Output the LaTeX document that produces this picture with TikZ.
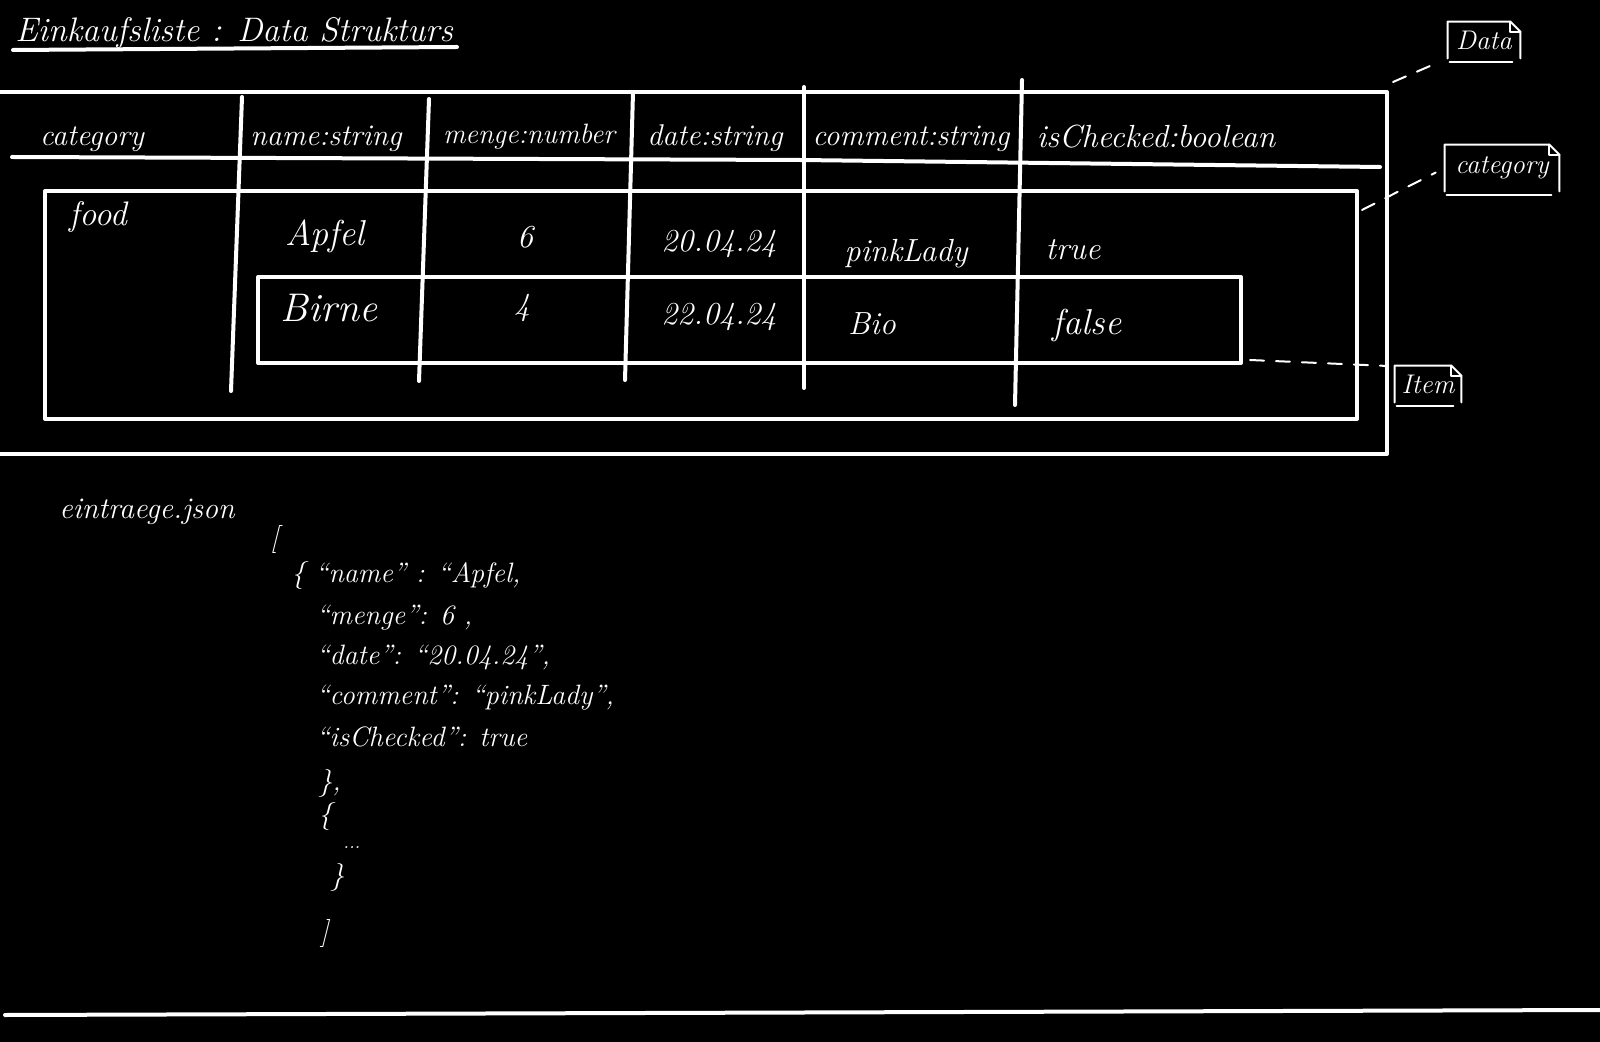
\documentclass[tikz,border=0pt]{standalone}
\usepackage{fontspec}
\begin{document}
\begin{tikzpicture}[x=0.5pt,y=-0.5pt,line cap=round,line join=round,
  wl/.style={white,line width=2pt},
  thinl/.style={white,line width=1pt},
  dashc/.style={white,line width=1pt,dash pattern=on 7pt off 6pt,shorten >=5pt},
  txt/.style={text=white,inner sep=0pt,font=\itshape\fontsize{16}{19}\selectfont},
  hdr/.style={txt,anchor=base,font=\itshape\fontsize{15}{18}\selectfont},
  cell/.style={txt,anchor=base},
  js/.style={txt,anchor=base west,font=\itshape\fontsize{14}{17}\selectfont},
  lbl/.style={text=white,inner sep=0pt,font=\itshape\fontsize{13.5}{16}\selectfont}]
\fill[black] (0,0) rectangle (1600,1042);
\useasboundingbox (0,0) rectangle (1600,1042);

% title
\node[txt,anchor=base west,font=\itshape\fontsize{17}{20}\selectfont] (title) at (15,42) {Einkaufsliste : Data Strukturs};
\draw[wl] (13,50) -- (457,47);

% Data frame
\draw[wl] (-5,92) -- (1387,92) -- (1387,454) -- (-5,454);
% header underline
\draw[wl] (12,157) -- (800,160) -- (1380,167);
% column separators
\draw[wl] (242,97) -- (231,391);
\draw[wl] (429,99) -- (419,381);
\draw[wl] (633,92) -- (625,380);
\draw[wl] (804,87) -- (804,388);
\draw[wl] (1022,80) -- (1015,405);

% header texts
\node[hdr] (h1) at (92,146) {category};
\node[hdr] (h2) at (326,146) {name:string};
\node[hdr,font=\itshape\fontsize{14}{17}\selectfont] (h3) at (529,144) {menge:number};
\node[hdr] (h4) at (715,146) {date:string};
\node[hdr] (h5) at (911,146) {comment:string};
\node[hdr,font=\itshape\fontsize{16}{19}\selectfont] (h6) at (1156,148) {isChecked:boolean};

% category frame
\draw[wl] (45,191) rectangle (1357,419);
\node[txt,anchor=base,font=\itshape\fontsize{17}{20}\selectfont] (food) at (98,226) {food};

% row 1
\node[cell,font=\itshape\fontsize{18}{21}\selectfont] (apfel) at (325,246) {Apfel};
\node[cell] (six) at (525,248) {6};
\node[cell] (d1) at (719,252) {20.04.24};
\node[cell] (c1) at (906,262) {pinkLady};
\node[cell] (t1) at (1073,260) {true};

% item frame
\draw[wl] (258,277) rectangle (1241,363);
\node[cell,font=\itshape\fontsize{20}{24}\selectfont] (birne) at (329,322) {Birne};
\node[cell] (four) at (522,316) {4};
\node[cell] (d2) at (719,325) {22.04.24};
\node[cell] (c2) at (872,335) {Bio};
\node[cell,font=\itshape\fontsize{18}{21}\selectfont] (f2) at (1087,335) {false};

% labels
\node[lbl,minimum width=36pt,minimum height=18pt] (ldata) at (1484,40) {Data};
\node[lbl,minimum width=57pt,minimum height=23pt] (lcat) at (1502,168) {category};
\node[lbl,minimum width=33pt,minimum height=18pt] (litem) at (1428,384) {Item};
\foreach \n in {ldata,lcat,litem}{
  \draw[thinl] (\n.south west) -- (\n.north west) -- ([xshift=-5pt]\n.north east) -- ([yshift=-5pt]\n.north east) -- (\n.south east);
  \draw[thinl] ([xshift=-5pt]\n.north east) -- ([xshift=-5pt,yshift=-5pt]\n.north east) -- ([yshift=-5pt]\n.north east);
  \draw[thinl] ([xshift=1pt,yshift=-2pt]\n.south west) -- ([xshift=-4pt,yshift=-2pt]\n.south east);
}
\coordinate (cdata) at (1393,82);
\coordinate (ccat) at (1362,210);
\coordinate (citem) at (1250,360);
\draw[dashc] (cdata) -- (ldata.south west);
\draw[dashc] (ccat) -- (lcat.west);
\draw[dashc] (citem) -- (1388,366) -- (litem.north west);

% json
\node[js,font=\itshape\fontsize{15}{18}\selectfont] (fname) at (59,518) {eintraege.json};
\node[js] (j0) at (270,546) {[};
\node[js] (j1) at (291,582) {\{ “name” : “Apfel,};
\node[js] (j2) at (316,624) {“menge”: 6 ,};
\node[js] (j3) at (316,664) {“date”: “20.04.24”,};
\node[js] (j4) at (316,704) {“comment”: “pinkLady”,};
\node[js] (j5) at (316,746) {“isChecked”: true};
\node[js] (j6) at (318,790) {\},};
\node[js] (j7) at (318,823) {\{};
\node[js,font=\itshape\fontsize{9}{11}\selectfont] (j8) at (343,848) {...};
\node[js] (j9) at (330,884) {\}};
\node[js] (j10) at (320,940) {]};

% bottom line
\draw[wl] (5,1015) -- (1600,1010);
\end{tikzpicture}
\end{document}
